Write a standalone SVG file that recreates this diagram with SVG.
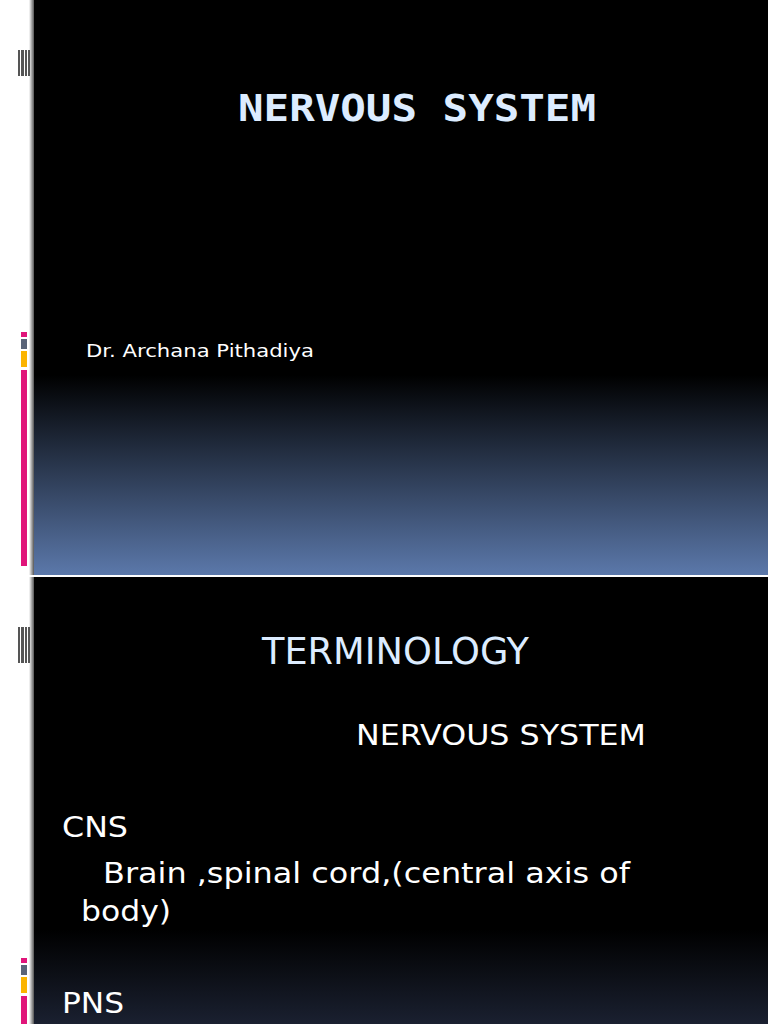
<svg xmlns="http://www.w3.org/2000/svg" width="768" height="1024" viewBox="0 0 768 1024">
<defs>
<linearGradient id="g1" x1="0" y1="0" x2="0" y2="1"><stop offset="0" stop-color="#000"/><stop offset="1" stop-color="#5b78aa"/></linearGradient>
<linearGradient id="g2" x1="0" y1="0" x2="0" y2="1"><stop offset="0" stop-color="#000"/><stop offset="1" stop-color="#1a2030"/></linearGradient>
<linearGradient id="sh" x1="0" y1="0" x2="1" y2="0"><stop offset="0" stop-color="#fff"/><stop offset="1" stop-color="#555"/></linearGradient>
<style>.t{fill:#dcecff}.w{fill:#fff;font-family:"DejaVu Sans",sans-serif}</style>
</defs>
<rect width="768" height="1024" fill="#fff"/>
<g id="slide1">
<rect x="30" y="0" width="738" height="575" fill="#000"/>
<rect x="30" y="375" width="738" height="200" fill="url(#g1)"/>
<rect x="29" y="0" width="5" height="575" fill="url(#sh)"/>
<g fill="#555"><rect x="18" y="50" width="2" height="26"/><rect x="21" y="50" width="3" height="26"/><rect x="25" y="50" width="2" height="26"/><rect x="28" y="50" width="2" height="26"/></g>
<rect x="21" y="332" width="6" height="5" fill="#e0157a"/>
<rect x="21" y="339" width="6" height="10" fill="#5a6478"/>
<rect x="21" y="351" width="6" height="16" fill="#fbb400"/>
<rect x="21" y="370" width="6" height="196" fill="#e0157a"/>
<text x="238" y="121" textLength="358" lengthAdjust="spacingAndGlyphs" class="t" font-family="DejaVu Sans Mono,monospace" font-weight="bold" font-size="38">NERVOUS SYSTEM</text>
<text x="86" y="357" textLength="228" lengthAdjust="spacingAndGlyphs" class="w" font-size="18">Dr. Archana Pithadiya</text>
</g>
<g id="slide2">
<rect x="30" y="577" width="738" height="447" fill="#000"/>
<rect x="30" y="930" width="738" height="94" fill="url(#g2)"/>
<rect x="29" y="577" width="5" height="447" fill="url(#sh)"/>
<g fill="#555"><rect x="18" y="627" width="2" height="36"/><rect x="21" y="627" width="3" height="36"/><rect x="25" y="627" width="2" height="36"/><rect x="28" y="627" width="2" height="36"/></g>
<rect x="21" y="958" width="6" height="5" fill="#e0157a"/>
<rect x="21" y="965" width="6" height="10" fill="#5a6478"/>
<rect x="21" y="977" width="6" height="16" fill="#fbb400"/>
<rect x="21" y="996" width="6" height="28" fill="#e0157a"/>
<text x="262" y="664" textLength="267" lengthAdjust="spacingAndGlyphs" class="t" font-family="DejaVu Sans,sans-serif" font-size="38">TERMINOLOGY</text>
<text x="356" y="745" textLength="290" lengthAdjust="spacingAndGlyphs" class="w" font-size="28">NERVOUS SYSTEM</text>
<text x="62" y="837" textLength="66" lengthAdjust="spacingAndGlyphs" class="w" font-size="28">CNS</text>
<text x="103" y="883" textLength="527" lengthAdjust="spacingAndGlyphs" class="w" font-size="28">Brain ,spinal cord,(central axis of</text>
<text x="81" y="921" textLength="90" lengthAdjust="spacingAndGlyphs" class="w" font-size="28">body)</text>
<text x="62" y="1013" textLength="62" lengthAdjust="spacingAndGlyphs" class="w" font-size="28">PNS</text>
</g>
</svg>
